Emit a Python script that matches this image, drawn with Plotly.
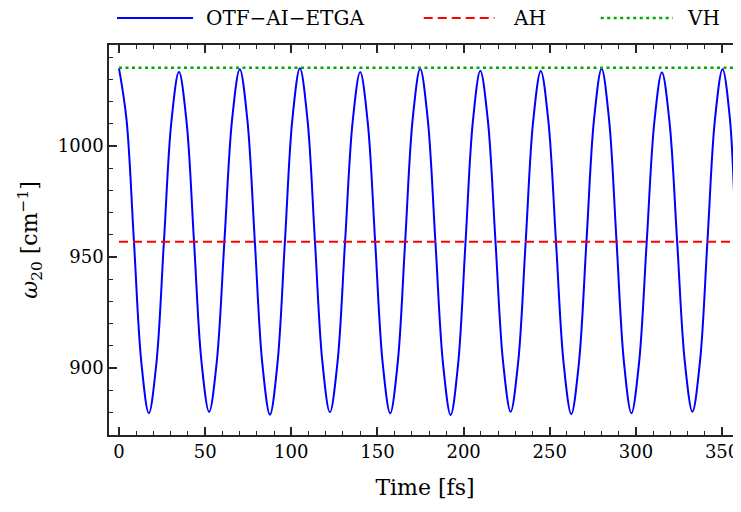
import plotly.graph_objects as go

# OTF-AI-ETGA instantaneous frequency
time_fs = [0, 4.33, 8.65, 12.98, 17.3,
           21.7, 26.05, 30.4, 34.8,
           39.2, 43.55, 47.9, 52.3,
           56.75, 61.2, 65.65, 70.1,
           74.5, 78.85, 83.2, 87.6,
           91.95, 96.3, 100.65, 105.0,
           109.35, 113.7, 118.05, 122.4,
           126.8, 131.2, 135.6, 140.0,
           144.35, 148.7, 153.05, 157.4,
           161.75, 166.1, 170.45, 174.8,
           179.2, 183.65, 188.1, 192.5,
           196.8, 201.1, 205.4, 209.7,
           214.1, 218.5, 222.9, 227.3,
           231.7, 236.05, 240.4, 244.8,
           249.2, 253.65, 258.1, 262.5,
           266.9, 271.3, 275.7, 280.1,
           284.4, 288.75, 293.1, 297.4,
           301.8, 306.25, 310.7, 315.1,
           319.5, 323.95, 328.4, 332.8,
           337.2, 341.55, 345.9, 350.3,
           354.6, 358.2, 362.6]
omega_otf = [1035.0, 1012.2, 957.3, 902.4, 879.6,
             902.1, 956.5, 1010.9, 1033.4,
             1011.0, 956.8, 902.6, 880.2,
             902.8, 957.4, 1012.0, 1034.6,
             1011.8, 956.8, 901.8, 879.0,
             901.8, 957.0, 1012.2, 1035.0,
             1012.3, 957.5, 902.7, 880.0,
             902.4, 956.7, 1010.9, 1033.3,
             1010.8, 956.5, 902.1, 879.6,
             902.3, 957.2, 1012.1, 1034.8,
             1012.0, 956.8, 901.6, 878.8,
             901.6, 956.4, 1011.2, 1033.9,
             1011.4, 957.1, 902.8, 880.3,
             902.8, 957.1, 1011.4, 1033.8,
             1011.2, 956.5, 901.8, 879.2,
             902.0, 957.0, 1012.0, 1034.8,
             1012.1, 957.2, 902.3, 879.6,
             902.1, 956.4, 1010.7, 1033.2,
             1010.8, 956.8, 902.7, 880.3,
             902.9, 957.5, 1012.1, 1034.6,
             1012.0, 957.0, 902.3]

ah_value = 956.9
vh_value = 1035.3
ref_span = [0, 365]

legend_names = ["OTF\u2212AI\u2212ETGA", "AH", "VH"]

x_ticks = [0, 50, 100, 150, 200, 250, 300, 350]
y_ticks = [900, 950, 1000]

FONT = "DejaVu Serif"

# the page has an 8 px body margin: shift the figure up/left by 8 px
# and keep its height inside the window so no scrollbar appears
W, H = 733, 496

fig = go.Figure()
fig.add_trace(go.Scatter(x=time_fs, y=omega_otf, mode="lines",
                         line=dict(color="#0000ff", width=2, shape="spline", smoothing=1.0),
                         name=legend_names[0], showlegend=False))
fig.add_trace(go.Scatter(x=ref_span, y=[ah_value, ah_value], mode="lines",
                         line=dict(color="#ff0000", width=2, dash="9px,5px"),
                         name=legend_names[1], showlegend=False))
fig.add_trace(go.Scatter(x=ref_span, y=[vh_value, vh_value], mode="lines",
                         line=dict(color="#00aa00", width=2.5, dash="3px,3.5px"),
                         name=legend_names[2], showlegend=False))

# custom legend above the plot area
leg_y = 1.069
legend_items = [
    (0.0127, 0.133, 0.150, "#0000ff", "solid", 2),
    (0.498, 0.610, 0.636, "#ff0000", "9px,5px", 2),
    (0.778, 0.892, 0.912, "#00aa00", "3px,3.5px", 2.5),
]
for (x0, x1, xt, col, dash, w), name in zip(legend_items, legend_names):
    fig.add_shape(type="line", xref="paper", yref="paper", x0=x0, x1=x1, y0=leg_y, y1=leg_y,
                  line=dict(color=col, width=w, dash=dash))
    fig.add_annotation(xref="paper", yref="paper", x=xt, y=leg_y, text=name, showarrow=False,
                       xanchor="left", yanchor="middle", font=dict(family=FONT, size=20, color="black"))

axis_common = dict(showline=True, linecolor="#262626", linewidth=1.5, mirror="ticks",
                   ticks="inside", ticklen=8, tickwidth=1.5, tickcolor="#262626",
                   showgrid=False, zeroline=False, automargin=False,
                   ticklabeloverflow="allow",
                   tickfont=dict(family=FONT, size=18, color="black"))

fig.update_xaxes(range=[-5.8, 361], tickvals=x_ticks, ticktext=[str(v) for v in x_ticks],
                 minor=dict(dtick=10, tick0=0, ticks="inside", ticklen=4, tickwidth=1.2, tickcolor="#262626"),
                 title=dict(text="Time [fs]", font=dict(family=FONT, size=22, color="black"), standoff=18),
                 **axis_common)
fig.update_yaxes(range=[869.8, 1045.5], tickvals=y_ticks, ticktext=[str(v) for v in y_ticks],
                 minor=dict(dtick=10, tick0=0, ticks="inside", ticklen=4, tickwidth=1.2, tickcolor="#262626"),
                 title=dict(text="<i>\u03c9</i><sub>20</sub> [cm<sup>\u22121</sup>]",
                            font=dict(family=FONT, size=22, color="black"), standoff=14),
                 **axis_common)

fig.update_layout(width=W, height=H, margin=dict(l=101, r=0, t=37, b=69),
                  plot_bgcolor="white", paper_bgcolor="white", showlegend=False,
                  font=dict(family=FONT))

fig.write_html("out.html")
